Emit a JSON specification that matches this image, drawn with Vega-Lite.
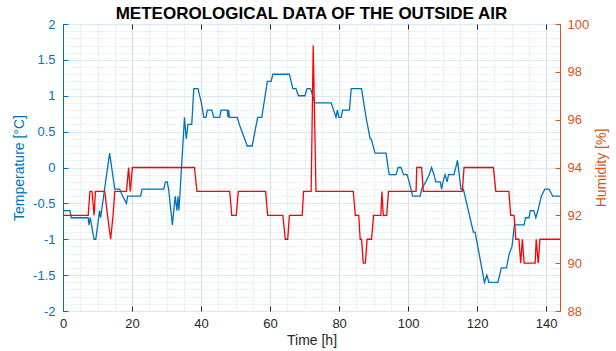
{
  "$schema": "https://vega.github.io/schema/vega-lite/v6.json",
  "width": 497,
  "height": 287,
  "autosize": "none",
  "padding": {"left": 63, "top": 24, "right": 56, "bottom": 40},
  "background": "white",
  "title": {
    "text": "METEOROLOGICAL DATA OF THE OUTSIDE AIR",
    "font": "Liberation Sans",
    "fontSize": 17,
    "fontWeight": "bold",
    "color": "#000000",
    "anchor": "middle",
    "offset": 4,
    "dy": 9
  },
  "config": {
    "font": "Liberation Sans",
    "view": {"stroke": "#262626", "strokeWidth": 1}
  },
  "datasets": {
    "temperature": [
      {"t": 0, "temp": -0.6}, {"t": 2.0, "temp": -0.6}, {"t": 2.4, "temp": -0.7},
      {"t": 7.3, "temp": -0.7}, {"t": 7.5, "temp": -0.8}, {"t": 7.9, "temp": -0.7},
      {"t": 9.0, "temp": -1.0}, {"t": 9.5, "temp": -1.0}, {"t": 10.6, "temp": -0.6},
      {"t": 10.9, "temp": -0.7}, {"t": 13.5, "temp": 0.2}, {"t": 15.0, "temp": -0.3},
      {"t": 16.4, "temp": -0.3}, {"t": 17.3, "temp": -0.4}, {"t": 18.4, "temp": -0.5},
      {"t": 18.7, "temp": -0.4}, {"t": 22.5, "temp": -0.4}, {"t": 22.9, "temp": -0.3},
      {"t": 29.2, "temp": -0.3}, {"t": 29.7, "temp": -0.2}, {"t": 30.2, "temp": -0.2},
      {"t": 30.6, "temp": -0.3}, {"t": 31.7, "temp": -0.8}, {"t": 32.5, "temp": -0.4},
      {"t": 33.0, "temp": -0.6}, {"t": 33.3, "temp": -0.4}, {"t": 33.6, "temp": -0.6},
      {"t": 35.2, "temp": 0.7}, {"t": 35.7, "temp": 0.4}, {"t": 36.2, "temp": 0.6},
      {"t": 37.3, "temp": 0.6}, {"t": 37.9, "temp": 1.1}, {"t": 39.1, "temp": 1.1},
      {"t": 40.1, "temp": 0.9}, {"t": 40.8, "temp": 0.7}, {"t": 41.4, "temp": 0.7},
      {"t": 41.8, "temp": 0.8}, {"t": 43.1, "temp": 0.8}, {"t": 43.7, "temp": 0.7},
      {"t": 45.4, "temp": 0.7}, {"t": 45.8, "temp": 0.8}, {"t": 47.6, "temp": 0.8},
      {"t": 47.8, "temp": 0.7}, {"t": 48.0, "temp": 0.8}, {"t": 48.2, "temp": 0.7},
      {"t": 50.5, "temp": 0.7}, {"t": 51.1, "temp": 0.6}, {"t": 53.4, "temp": 0.3},
      {"t": 54.8, "temp": 0.3}, {"t": 56.4, "temp": 0.7}, {"t": 57.6, "temp": 0.7},
      {"t": 59.2, "temp": 1.2}, {"t": 60.3, "temp": 1.2}, {"t": 60.8, "temp": 1.3},
      {"t": 65.6, "temp": 1.3}, {"t": 66.6, "temp": 1.1}, {"t": 67.5, "temp": 1.1},
      {"t": 68.2, "temp": 1.0}, {"t": 70.1, "temp": 1.0}, {"t": 70.7, "temp": 1.1},
      {"t": 71.7, "temp": 1.1}, {"t": 73.0, "temp": 0.9}, {"t": 77.7, "temp": 0.9},
      {"t": 78.4, "temp": 0.8}, {"t": 79.1, "temp": 0.7}, {"t": 79.5, "temp": 0.8},
      {"t": 79.9, "temp": 0.7}, {"t": 80.6, "temp": 0.7}, {"t": 81.0, "temp": 0.8},
      {"t": 83.0, "temp": 0.8}, {"t": 83.5, "temp": 1.1}, {"t": 86.5, "temp": 1.1},
      {"t": 87.8, "temp": 0.7}, {"t": 89.0, "temp": 0.4}, {"t": 89.3, "temp": 0.4},
      {"t": 90.4, "temp": 0.2}, {"t": 93.6, "temp": 0.2}, {"t": 94.5, "temp": -0.1},
      {"t": 96.5, "temp": -0.1}, {"t": 97.1, "temp": 0.0}, {"t": 97.9, "temp": 0.0},
      {"t": 98.7, "temp": -0.1}, {"t": 99.7, "temp": -0.1}, {"t": 100.3, "temp": -0.2},
      {"t": 101.3, "temp": -0.4}, {"t": 103.5, "temp": -0.4}, {"t": 103.9, "temp": -0.3},
      {"t": 105.1, "temp": -0.2}, {"t": 106.1, "temp": -0.1}, {"t": 106.8, "temp": 0.0},
      {"t": 107.5, "temp": -0.1}, {"t": 108.0, "temp": -0.2}, {"t": 109.3, "temp": -0.2},
      {"t": 109.7, "temp": -0.3}, {"t": 110.1, "temp": -0.2}, {"t": 110.7, "temp": -0.1},
      {"t": 111.3, "temp": -0.2}, {"t": 111.7, "temp": -0.1}, {"t": 113.3, "temp": -0.1},
      {"t": 114.3, "temp": 0.1}, {"t": 114.8, "temp": -0.1}, {"t": 115.3, "temp": -0.3},
      {"t": 116.0, "temp": -0.3}, {"t": 118.9, "temp": -0.9}, {"t": 119.4, "temp": -0.9},
      {"t": 122.1, "temp": -1.6}, {"t": 122.8, "temp": -1.5}, {"t": 123.4, "temp": -1.6},
      {"t": 126.0, "temp": -1.6}, {"t": 127.0, "temp": -1.4}, {"t": 128.5, "temp": -1.4},
      {"t": 129.3, "temp": -1.2}, {"t": 130.1, "temp": -1.1}, {"t": 130.8, "temp": -0.8},
      {"t": 133.6, "temp": -0.8}, {"t": 134.0, "temp": -0.7}, {"t": 135.0, "temp": -0.7},
      {"t": 135.4, "temp": -0.6}, {"t": 136.4, "temp": -0.6}, {"t": 137.0, "temp": -0.7},
      {"t": 137.6, "temp": -0.6}, {"t": 138.6, "temp": -0.4}, {"t": 139.6, "temp": -0.3},
      {"t": 140.8, "temp": -0.3}, {"t": 141.9, "temp": -0.4}, {"t": 144.0, "temp": -0.4}
    ],
    "humidity": [
      {"t": 0, "rh": 92}, {"t": 7.3, "rh": 92}, {"t": 7.8, "rh": 93}, {"t": 8.4, "rh": 93},
      {"t": 9.0, "rh": 92}, {"t": 9.4, "rh": 93}, {"t": 12.1, "rh": 93}, {"t": 12.9, "rh": 92},
      {"t": 13.8, "rh": 91}, {"t": 14.5, "rh": 92}, {"t": 15.0, "rh": 93}, {"t": 18.4, "rh": 93},
      {"t": 19.0, "rh": 94}, {"t": 19.5, "rh": 93}, {"t": 20.1, "rh": 94}, {"t": 38.1, "rh": 94},
      {"t": 38.8, "rh": 93}, {"t": 48.3, "rh": 93}, {"t": 48.9, "rh": 92}, {"t": 50.2, "rh": 92},
      {"t": 50.8, "rh": 93}, {"t": 58.7, "rh": 93}, {"t": 59.3, "rh": 92}, {"t": 63.7, "rh": 92},
      {"t": 64.4, "rh": 91}, {"t": 65.1, "rh": 91}, {"t": 65.6, "rh": 92}, {"t": 69.3, "rh": 92},
      {"t": 69.7, "rh": 93}, {"t": 71.9, "rh": 93}, {"t": 72.5, "rh": 99.1}, {"t": 73.3, "rh": 93},
      {"t": 84.1, "rh": 93}, {"t": 84.7, "rh": 92}, {"t": 85.7, "rh": 92}, {"t": 86.1, "rh": 91},
      {"t": 86.5, "rh": 91}, {"t": 87.0, "rh": 90}, {"t": 87.6, "rh": 90}, {"t": 88.1, "rh": 91},
      {"t": 89.4, "rh": 91}, {"t": 90.0, "rh": 92}, {"t": 92.1, "rh": 92}, {"t": 92.4, "rh": 93},
      {"t": 92.8, "rh": 92}, {"t": 93.8, "rh": 92}, {"t": 94.3, "rh": 93}, {"t": 102.3, "rh": 93},
      {"t": 102.5, "rh": 94}, {"t": 103.9, "rh": 94}, {"t": 104.4, "rh": 93}, {"t": 115.7, "rh": 93},
      {"t": 116.2, "rh": 94}, {"t": 124.7, "rh": 94}, {"t": 125.4, "rh": 93}, {"t": 129.2, "rh": 93},
      {"t": 129.7, "rh": 92}, {"t": 130.7, "rh": 92}, {"t": 131.2, "rh": 91}, {"t": 132.1, "rh": 91},
      {"t": 132.6, "rh": 90}, {"t": 133.1, "rh": 91}, {"t": 133.6, "rh": 90}, {"t": 136.8, "rh": 90},
      {"t": 137.1, "rh": 91}, {"t": 137.7, "rh": 90}, {"t": 138.2, "rh": 91}, {"t": 144.0, "rh": 91}
    ]
  },
  "layer": [
    {
      "data": {"name": "temperature"},
      "mark": {"type": "line", "color": "#0072BD", "strokeWidth": 1.3, "clip": true},
      "encoding": {
        "x": {
          "field": "t",
          "type": "quantitative",
          "scale": {"domain": [0, 144], "nice": false, "zero": false},
          "axis": {
            "orient": "bottom",
            "values": [0, 5, 10, 15, 20, 25, 30, 35, 40, 45, 50, 55, 60, 65, 70, 75, 80, 85, 90, 95, 100, 105, 110, 115, 120, 125, 130, 135, 140],
            "labelExpr": "datum.value % 20 === 0 ? toString(datum.value) : ''",
            "labelFont": "Liberation Sans",
            "labelFontSize": 13,
            "labelColor": "#262626",
            "labelPadding": 11,
            "labelFlush": false,
            "labelOverlap": false,
            "domain": false,
            "ticks": true,
            "tickSize": -5,
            "tickColor": "#262626",
            "tickOpacity": {"condition": {"test": "datum.value % 20 === 0", "value": 1}, "value": 0},
            "grid": true,
            "gridColor": {"condition": {"test": "datum.value % 20 === 0", "value": "#DEDEDE"}, "value": "#D2D2D2"},
            "gridDash": {"condition": {"test": "datum.value % 20 === 0", "value": []}, "value": [1, 2]},
            "gridWidth": 1,
            "title": "Time [h]",
            "titleFont": "Liberation Sans",
            "titleFontSize": 14,
            "titleFontWeight": "normal",
            "titleColor": "#262626",
            "titlePadding": 3
          }
        },
        "y": {
          "field": "temp",
          "type": "quantitative",
          "scale": {"domain": [-2, 2], "nice": false, "zero": false},
          "axis": {
            "orient": "left",
            "values": [-2, -1.9, -1.8, -1.7, -1.6, -1.5, -1.4, -1.3, -1.2, -1.1, -1, -0.9, -0.8, -0.7, -0.6, -0.5, -0.4, -0.3, -0.2, -0.1, 0, 0.1, 0.2, 0.3, 0.4, 0.5, 0.6, 0.7, 0.8, 0.9, 1, 1.1, 1.2, 1.3, 1.4, 1.5, 1.6, 1.7, 1.8, 1.9, 2],
            "labelExpr": "abs(datum.value * 2 - round(datum.value * 2)) < 0.001 ? toString(datum.value) : ''",
            "labelFont": "Liberation Sans",
            "labelFontSize": 13,
            "labelColor": "#0072BD",
            "labelPadding": 13,
            "labelOverlap": false,
            "labelFlush": false,
            "domain": true,
            "domainColor": "#0072BD",
            "domainWidth": 1,
            "tickSize": -5,
            "tickColor": "#0072BD",
            "tickOpacity": {"condition": {"test": "abs(datum.value * 2 - round(datum.value * 2)) < 0.001", "value": 1}, "value": 0},
            "grid": true,
            "gridColor": {"condition": {"test": "abs(datum.value * 2 - round(datum.value * 2)) < 0.001", "value": "#D9EAF5"}, "value": "#C8E0F0"},
            "gridDash": {"condition": {"test": "abs(datum.value * 2 - round(datum.value * 2)) < 0.001", "value": []}, "value": [1, 2]},
            "gridWidth": 1,
            "title": "Temperature [°C]",
            "titleFont": "Liberation Sans",
            "titleFontSize": 14,
            "titleFontWeight": "normal",
            "titleColor": "#0072BD",
            "titlePadding": 6
          }
        }
      }
    },
    {
      "data": {"name": "humidity"},
      "mark": {"type": "line", "color": "#FF0000", "strokeWidth": 1.3, "clip": true},
      "encoding": {
        "x": {
          "field": "t",
          "type": "quantitative",
          "axis": {
            "orient": "top",
            "values": [0, 20, 40, 60, 80, 100, 120, 140],
            "labels": false,
            "domain": false,
            "grid": false,
            "tickSize": -5,
            "tickColor": "#262626",
            "title": null
          }
        },
        "y": {
          "field": "rh",
          "type": "quantitative",
          "scale": {"domain": [88, 100], "nice": false, "zero": false},
          "axis": {
            "orient": "right",
            "values": [88, 90, 92, 94, 96, 98, 100],
            "labelFont": "Liberation Sans",
            "labelFontSize": 13,
            "labelColor": "#D95319",
            "labelPadding": 12,
            "labelFlush": false,
            "labelOverlap": false,
            "domain": true,
            "domainColor": "#D95319",
            "domainWidth": 1,
            "tickSize": -5,
            "tickColor": "#D95319",
            "grid": false,
            "title": "Humidity [%]",
            "titleFont": "Liberation Sans",
            "titleFontSize": 14,
            "titleFontWeight": "normal",
            "titleColor": "#D95319",
            "titleAngle": 270,
            "titlePadding": 20
          }
        }
      }
    }
  ],
  "resolve": {"scale": {"y": "independent"}, "axis": {"x": "independent"}}
}
